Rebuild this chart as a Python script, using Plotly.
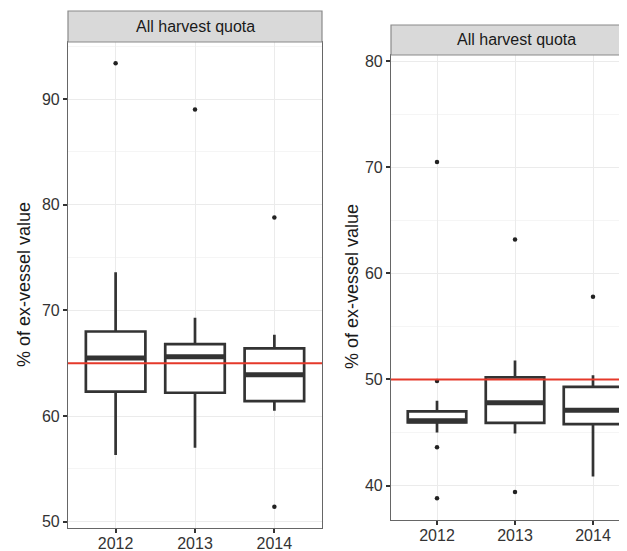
import plotly.graph_objects as go

# ---------------- data ----------------
years = ["2012", "2013", "2014"]

# left panel
left_q1 = [62.3, 62.2, 61.4]
left_median = [65.5, 65.6, 63.9]
left_q3 = [68.0, 66.8, 66.4]
left_low = [56.3, 57.0, 60.5]
left_high = [73.6, 69.3, 67.7]
left_out_years = ["2012", "2013", "2014", "2014"]
left_out_vals = [93.4, 89.0, 78.8, 51.4]
left_ref = 65.0

# right panel
right_q1 = [45.95, 45.9, 45.8]
right_median = [46.1, 47.8, 47.1]
right_q3 = [47.0, 50.2, 49.3]
right_low = [45.0, 44.9, 40.85]
right_high = [48.0, 51.8, 50.4]
right_out_years = ["2012", "2012", "2012", "2012", "2013", "2013", "2014"]
right_out_vals = [70.5, 49.85, 43.6, 38.8, 63.2, 39.4, 57.8]
right_ref = 50.0

strip_label = "All harvest quota"
y_title = "% of ex-vessel value"
left_yticks = [50, 60, 70, 80, 90]
right_yticks = [40, 50, 60, 70, 80]

# ---------------- figure ----------------
# The page body has an 8px margin, so the figure is sized to fill the
# visible window exactly and positions are given in window pixels.
OFF = 8
W, H = 627 - OFF, 551 - OFF
FONT = "Liberation Sans, Arial, Helvetica, sans-serif"
BOXCOL = "#333333"

fig = go.Figure()

def add_panel(xa, ya, q1, med, q3, lo, hi, oy, ov):
    fig.add_trace(go.Box(
        x=years, q1=q1, median=med, q3=q3, lowerfence=lo, upperfence=hi,
        xaxis=xa, yaxis=ya, boxpoints=False, whiskerwidth=0, width=0.75,
        fillcolor="white", line=dict(color=BOXCOL, width=2.7),
        showlegend=False, hoverinfo="skip"))
    # thick median bar (ggplot style)
    fig.add_trace(go.Box(
        x=years, q1=med, median=med, q3=med, lowerfence=med, upperfence=med,
        xaxis=xa, yaxis=ya, boxpoints=False, whiskerwidth=0, width=0.75,
        fillcolor="rgba(0,0,0,0)", line=dict(color=BOXCOL, width=5),
        showlegend=False, hoverinfo="skip"))
    fig.add_trace(go.Scatter(
        x=oy, y=ov, mode="markers", xaxis=xa, yaxis=ya,
        marker=dict(color="#222222", size=4.5), showlegend=False,
        hoverinfo="skip"))

add_panel("x", "y", left_q1, left_median, left_q3, left_low, left_high,
          left_out_years, left_out_vals)
add_panel("x2", "y2", right_q1, right_median, right_q3, right_low, right_high,
          right_out_years, right_out_vals)

def px_x(p):
    return (p - OFF) / W

def px_y(p):
    return (H - (p - OFF)) / H

axis_common = dict(
    showline=True, linecolor="#666666", linewidth=1.2, automargin=False,
    ticks="outside", ticklen=4, tickwidth=2, tickcolor="#333333",
    tickfont=dict(family=FONT, size=16, color="#333333"),
    showgrid=True, gridcolor="#EBEBEB", gridwidth=1, zeroline=False,
)

fig.update_layout(
    width=W, height=H, autosize=False,
    margin=dict(l=0, r=0, t=0, b=0, pad=0),
    paper_bgcolor="white", plot_bgcolor="white",
    boxmode="overlay",
    font=dict(family=FONT, color="#333333"),
    xaxis=dict(axis_common, type="category", domain=[px_x(68), px_x(322)],
               range=[-0.6, 2.6], mirror=True, anchor="y",
               ticklabelstandoff=-3),
    yaxis=dict(axis_common, domain=[px_y(528), px_y(42)], range=[49.4, 95.4],
               tickvals=left_yticks, mirror=True, anchor="x",
               minor=dict(tickmode="linear", tick0=5, dtick=10, showgrid=True,
                          gridcolor="#F5F5F5", ticks="")),
    xaxis2=dict(axis_common, type="category", domain=[px_x(391), 1.0],
                range=[-0.59, 2.436], mirror=True, anchor="y2",
                ticklabelstandoff=-3),
    yaxis2=dict(axis_common, domain=[px_y(520), px_y(55)], range=[36.75, 80.6],
                tickvals=right_yticks, mirror=False, anchor="x2",
                minor=dict(tickmode="linear", tick0=5, dtick=10, showgrid=True,
                           gridcolor="#F5F5F5", ticks="")),
)

# reference lines
fig.add_shape(type="line", xref="x domain", yref="y", x0=0, x1=1,
              y0=left_ref, y1=left_ref, line=dict(color="#E5392A", width=2),
              layer="above")
fig.add_shape(type="line", xref="x2 domain", yref="y2", x0=0, x1=1,
              y0=right_ref, y1=right_ref, line=dict(color="#E5392A", width=2),
              layer="above")

# strips
fig.add_shape(type="rect", xref="paper", yref="paper",
              x0=px_x(68), x1=px_x(322), y0=px_y(42), y1=px_y(11),
              fillcolor="#D9D9D9", line=dict(color="#8A8A8A", width=1.2),
              layer="above")
fig.add_shape(type="rect", xref="paper", yref="paper",
              x0=px_x(391), x1=px_x(645), y0=px_y(55), y1=px_y(25),
              fillcolor="#D9D9D9", line=dict(color="#8A8A8A", width=1.2),
              layer="above")
fig.add_annotation(text=strip_label, xref="paper", yref="paper",
                   x=px_x(195), y=px_y(26.5), showarrow=False,
                   xanchor="center", yanchor="middle",
                   font=dict(family=FONT, size=16, color="#1A1A1A"))
fig.add_annotation(text=strip_label, xref="paper", yref="paper",
                   x=px_x(516), y=px_y(40), showarrow=False,
                   xanchor="center", yanchor="middle",
                   font=dict(family=FONT, size=16, color="#1A1A1A"))

# axis titles
fig.add_annotation(text=y_title, xref="paper", yref="paper",
                   x=px_x(24), y=px_y(285), showarrow=False, textangle=-90,
                   xanchor="center", yanchor="middle",
                   font=dict(family=FONT, size=18, color="#1A1A1A"))
fig.add_annotation(text=y_title, xref="paper", yref="paper",
                   x=px_x(352), y=px_y(287), showarrow=False, textangle=-90,
                   xanchor="center", yanchor="middle",
                   font=dict(family=FONT, size=18, color="#1A1A1A"))

fig.write_html("out.html")
